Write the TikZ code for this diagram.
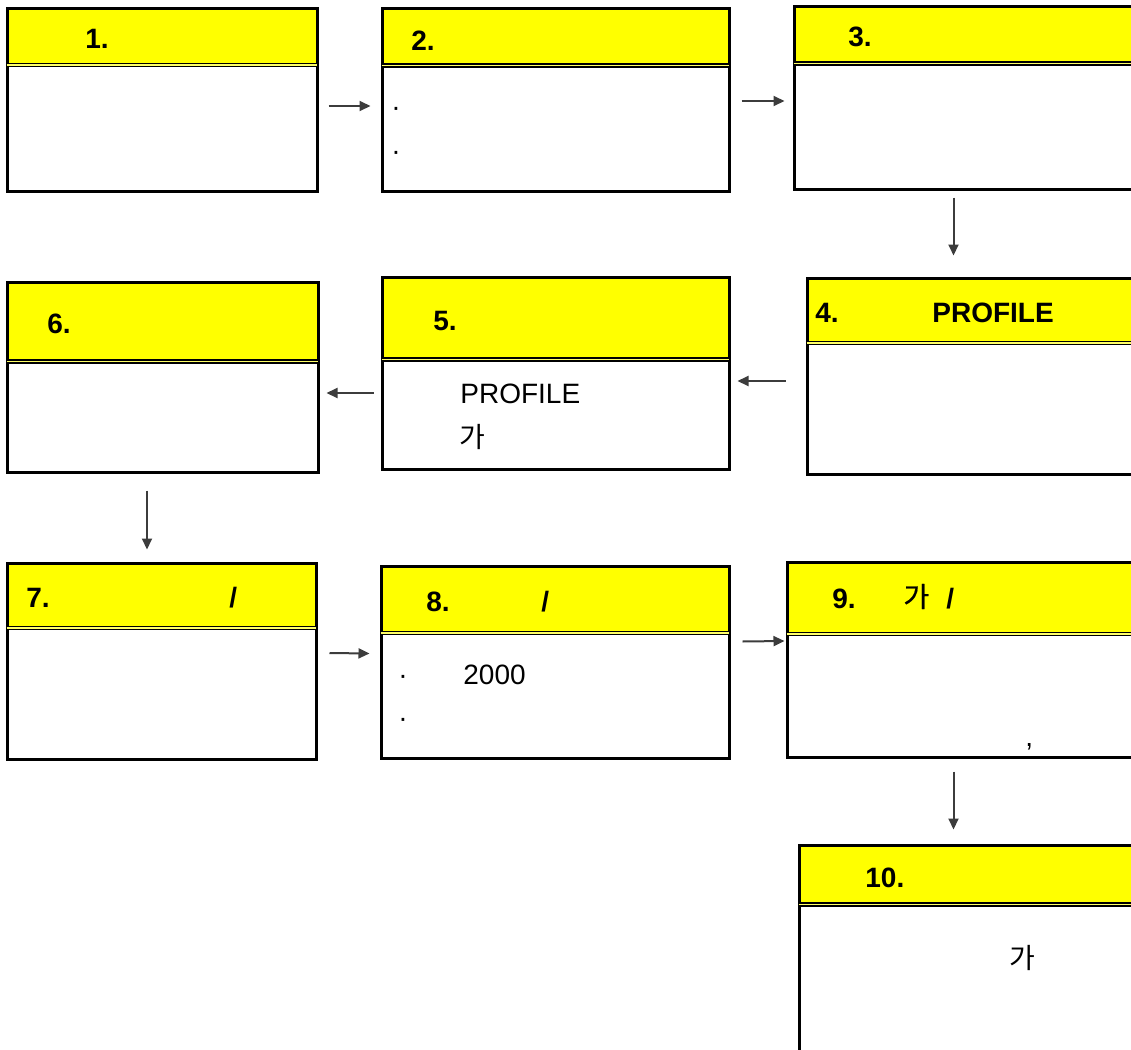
\documentclass[tikz,border=0pt]{standalone}
\usepackage{fontspec}
\setmainfont{Liberation Sans}
\newfontfamily\kr{Noto Sans CJK KR}
\newfontfamily\krb{Noto Sans CJK KR}[FakeBold=0.6]
\usetikzlibrary{fit}
\usetikzlibrary{calc}
\usetikzlibrary{arrows.meta}
\definecolor{headColor}{RGB}{255,255,0}
\definecolor{flowColor}{RGB}{60,60,60}
\tikzset{
  head/.style={fill=headColor, inner sep=0pt},
  panel/.style={draw, line width=1.5pt, inner sep=0pt},
  rule/.style={line width=0.7pt, double=headColor!60!white, double distance=0.7pt},
  title/.style={anchor=base west, inner sep=0pt, font=\fontsize{14}{16}\selectfont\bfseries},
  body/.style={anchor=base west, inner sep=0pt, font=\fontsize{14}{16}\selectfont},
  flow/.style={flowColor, line width=1pt, -{Triangle[length=5.5pt,width=5pt]}}
}

\begin{document}
\begin{tikzpicture}[x=0.5pt,y=-0.5pt]
\newcommand\Panel[6]{
  \node [head, fit={(#2,#3) (#4,#6)}] (h#1) {};
  \node [panel, fit={(#2,#3) (#4,#5)}] (b#1) {};
  \draw [rule] (h#1.south west) -- (h#1.south east);
}
\useasboundingbox (0,0) rectangle (1131,1050);
\clip (0,0) rectangle (1131,1050);

% boxes
\Panel{1}{7}{8}{317}{191}{64.5}
\Panel{2}{382}{8}{729}{191}{65}
\Panel{3}{794}{6}{1140}{189}{63}
\Panel{4}{807}{278}{1140}{474}{342.5}
\Panel{5}{382}{277}{729}{469}{359}
\Panel{6}{7}{282}{318}{472}{361}
\Panel{7}{7}{563}{316}{759}{627.5}
\Panel{8}{381}{566}{729}{758}{632.5}
\Panel{9}{787}{562}{1140}{757}{633.5}
\Panel{10}{799}{845}{1140}{1070}{904}

% headers
\node [title] (n1) at (85,48) {1.};
\node [title] (n2) at (411,50) {2.};
\node [title] (n3) at (848,46) {3.};
\node [title] (n4) at (815,322) {4.};
\node [title] (p4) at (932,322) {PROFILE};
\node [title] (n5) at (433,330) {5.};
\node [title] (n6) at (47,333) {6.};
\node [title] (n7) at (26,607) {7.};
\node [title] (s7) at (229,607) {/};
\node [title] (n8) at (426,611) {8.};
\node [title] (s8) at (541,611) {/};
\node [title] (n9) at (832,608) {9.};
\node [title] (k9) at (903,607) {\krb\mdseries 가};
\node [title] (s9) at (946,608) {/};
\node [title] (n10) at (865,887) {10.};

% contents
\node [body] (d2a) at (391,116) {·};
\node [body] (d2b) at (391,160) {·};
\node [body] (p5) at (460,403) {PROFILE};
\node [body] (k5) at (459,447) {\kr 가};
\node [body] (d8a) at (398,684) {·};
\node [body] (y8) at (463,684) {2000};
\node [body] (d8b) at (398,727) {·};
\node [body] (c9) at (1025,746) {,};
\node [body] (k10) at (1009,968) {\kr 가};

% arrows
\draw [flow] ($(b1.east)+(10,6.5)$) -- ($(b2.west)+(-10,6.5)$);
\draw [flow] ($(b2.east)+(11,1.5)$) -- ($(b3.west)+(-8,3.5)$);
\draw [flow] ($(b3.south west)+(161,7)$) -- ($(b4.north west)+(148,-21)$);
\draw [flow] ($(b4.west)+(-20,5)$) -- ($(b5.east)+(7,8)$);
\draw [flow] ($(b5.west)+(-7,20)$) -- ($(b6.east)+(7,16)$);
\draw [flow] ($(b6.south)+(-15.5,17)$) -- ($(b7.north)+(-14.5,-12)$);
\draw [flow] ($(b7.east)+(12,-8)$) -- ($(b8.west)+(-10,-8.5)$);
\draw [flow] ($(b8.east)+(12,-20.5)$) -- ($(b9.west)+(-1,-18.5)$);
\draw [flow] ($(b9.south west)+(168,13)$) -- ($(b10.north west)+(156,-14)$);
\end{tikzpicture}
\end{document}
